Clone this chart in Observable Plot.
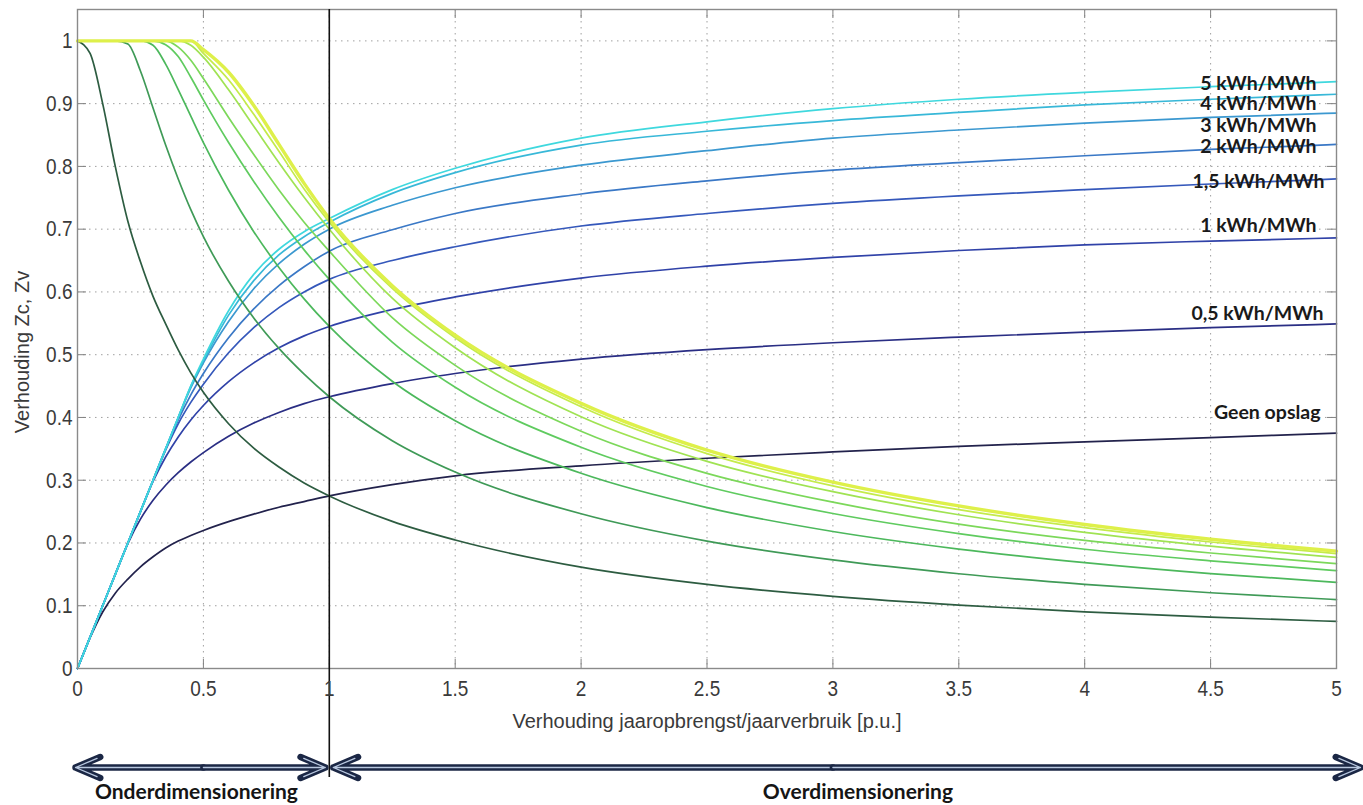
<!DOCTYPE html>
<html>
<head>
<meta charset="utf-8">
<script src="https://cdn.jsdelivr.net/npm/d3@7"></script>
<script src="https://cdn.jsdelivr.net/npm/@observablehq/plot@0.6"></script>
<style>
  html, body { margin: 0; padding: 0; background: #ffffff; }
  #chart { width: 1363px; height: 805px; overflow: hidden; }
  #chart svg { display: block; }
</style>
</head>
<body>
<div id="chart"></div>
<script>
// ---------------- DATA ----------------
const xs = [0, 0.05, 0.1, 0.15, 0.2, 0.25, 0.3, 0.35, 0.4, 0.45, 0.5, 0.6, 0.7, 0.8, 0.9, 1, 1.25, 1.5, 2, 2.5, 3, 3.5, 4, 4.5, 5];

const seriesNames = ["Geen opslag", "0,5 kWh/MWh", "1 kWh/MWh", "1,5 kWh/MWh", "2 kWh/MWh", "3 kWh/MWh", "4 kWh/MWh", "5 kWh/MWh"];

// Zc (rising curves)
const zcGeen = [0, 0.049, 0.09, 0.12, 0.1425, 0.162, 0.178, 0.192, 0.203, 0.212, 0.22, 0.234, 0.246, 0.257, 0.266, 0.275, 0.293, 0.307, 0.323, 0.335, 0.345, 0.354, 0.361, 0.368, 0.375];
const zc05   = [0, 0.05, 0.1, 0.15, 0.199, 0.238, 0.268, 0.292, 0.312, 0.329, 0.344, 0.37, 0.391, 0.408, 0.422, 0.433, 0.454, 0.47, 0.493, 0.508, 0.519, 0.528, 0.536, 0.543, 0.549];
const zc1    = [0, 0.05, 0.1, 0.15, 0.2, 0.25, 0.298, 0.337, 0.369, 0.396, 0.419, 0.457, 0.487, 0.511, 0.53, 0.545, 0.572, 0.592, 0.622, 0.641, 0.655, 0.666, 0.675, 0.681, 0.686];
const zc15   = [0, 0.05, 0.1, 0.15, 0.2, 0.25, 0.3, 0.348, 0.39, 0.424, 0.453, 0.503, 0.543, 0.575, 0.6, 0.62, 0.65, 0.672, 0.705, 0.725, 0.741, 0.753, 0.763, 0.772, 0.78];
const zc2    = [0, 0.05, 0.1, 0.15, 0.2, 0.25, 0.3, 0.35, 0.396, 0.436, 0.47, 0.527, 0.573, 0.61, 0.64, 0.665, 0.699, 0.725, 0.756, 0.777, 0.794, 0.806, 0.817, 0.827, 0.835];
const zc3    = [0, 0.05, 0.1, 0.15, 0.2, 0.25, 0.3, 0.35, 0.4, 0.447, 0.487, 0.553, 0.605, 0.645, 0.676, 0.70, 0.738, 0.766, 0.802, 0.825, 0.845, 0.858, 0.869, 0.878, 0.885];
const zc4    = [0, 0.05, 0.1, 0.15, 0.2, 0.25, 0.3, 0.35, 0.4, 0.45, 0.49, 0.563, 0.618, 0.659, 0.688, 0.711, 0.757, 0.79, 0.834, 0.856, 0.873, 0.886, 0.898, 0.907, 0.915];
const zc5    = [0, 0.05, 0.1, 0.15, 0.2, 0.25, 0.3, 0.35, 0.4, 0.45, 0.493, 0.57, 0.628, 0.668, 0.696, 0.717, 0.763, 0.797, 0.845, 0.871, 0.892, 0.907, 0.918, 0.927, 0.935];

// Zv (falling curves)
const zvGeen = [1, 0.98, 0.9, 0.8, 0.7125, 0.648, 0.593, 0.549, 0.5075, 0.471, 0.44, 0.39, 0.351, 0.321, 0.2956, 0.275, 0.2344, 0.2047, 0.1615, 0.134, 0.115, 0.1011, 0.0903, 0.0818, 0.075];
const zv05   = [1, 1, 1, 1, 0.995, 0.952, 0.893, 0.834, 0.78, 0.731, 0.688, 0.617, 0.5586, 0.51, 0.469, 0.433, 0.363, 0.313, 0.2465, 0.203, 0.173, 0.151, 0.134, 0.1207, 0.1098];
const zv1    = [1, 1, 1, 1, 1, 1, 0.993, 0.963, 0.9225, 0.88, 0.838, 0.762, 0.696, 0.639, 0.589, 0.545, 0.4576, 0.3947, 0.311, 0.2564, 0.2183, 0.1903, 0.1688, 0.1513, 0.1372];
const zv15   = [1, 1, 1, 1, 1, 1, 1, 0.994, 0.975, 0.942, 0.906, 0.838, 0.776, 0.719, 0.667, 0.62, 0.52, 0.448, 0.3525, 0.29, 0.247, 0.215, 0.19, 0.1716, 0.156];
const zv2    = [1, 1, 1, 1, 1, 1, 1, 1, 0.99, 0.969, 0.94, 0.878, 0.819, 0.7625, 0.711, 0.665, 0.559, 0.483, 0.378, 0.311, 0.265, 0.23, 0.204, 0.184, 0.167];
const zv3    = [1, 1, 1, 1, 1, 1, 1, 1, 1, 0.993, 0.974, 0.922, 0.864, 0.806, 0.751, 0.70, 0.59, 0.511, 0.401, 0.33, 0.2817, 0.245, 0.217, 0.195, 0.177];
const zv4    = [1, 1, 1, 1, 1, 1, 1, 1, 1, 1, 0.98, 0.938, 0.883, 0.824, 0.764, 0.711, 0.6056, 0.527, 0.417, 0.3424, 0.291, 0.253, 0.2245, 0.2016, 0.183];
const zv5    = [1, 1, 1, 1, 1, 1, 1, 1, 1, 1, 0.986, 0.95, 0.897, 0.835, 0.773, 0.717, 0.61, 0.531, 0.4225, 0.348, 0.297, 0.259, 0.2295, 0.206, 0.187];

const xTicks = [0, 0.5, 1, 1.5, 2, 2.5, 3, 3.5, 4, 4.5, 5];
const yTicks = [0, 0.1, 0.2, 0.3, 0.4, 0.5, 0.6, 0.7, 0.8, 0.9, 1];

const regions = [
  { name: "Onderdimensionering", from: 0, to: 1 },
  { name: "Overdimensionering", from: 1, to: 5 }
];

const xLabel = "Verhouding jaaropbrengst/jaarverbruik [p.u.]";
const yLabel = "Verhouding Zc, Zv";

// ---------------- STYLE / LAYOUT ----------------
const zcSeries = [zcGeen, zc05, zc1, zc15, zc2, zc3, zc4, zc5];
const zvSeries = [zvGeen, zv05, zv1, zv15, zv2, zv3, zv4, zv5];
const zcColors = ["#22224c", "#2a2e84", "#3042a8", "#3558bb", "#3a78c6", "#3b98d0", "#38b8d8", "#3fd8de"];
const zvColors = ["#2d5c41", "#3f9a57", "#4cb85c", "#5fcb5f", "#7cd85a", "#a0e353", "#c4eb4b", "#def04a"];
const labelDx = [-16, -13, -20, -12, -20, -20, -20, -20];
const labelDy = [-20, -10, -12, 2.5, 2.5, 12.5, 10, 2];

const W = 1363, H = 805, mL = 77, mR = 27, mT = 9, mB = 137;
const fw = W - mL - mR, fh = H - mT - mB;
const tickLen = 9;
const axisFont = "'Liberation Sans', Arial, Helvetica, sans-serif";
const axisFill = "#3a3a3a";
const labelFont = "Lato, 'Open Sans', sans-serif";
const gridStyle = { stroke: "#8f8f8f", strokeOpacity: 0.85, strokeWidth: 1, strokeDasharray: "1.5,4.5" };

const marks = [];
marks.push(Plot.gridX(xTicks, gridStyle));
marks.push(Plot.gridY(yTicks, gridStyle));

// inward ticks on all four sides
marks.push(Plot.ruleX(xTicks, { insetTop: fh - tickLen, stroke: "#808080", strokeWidth: 1 }));
marks.push(Plot.ruleX(xTicks, { insetBottom: fh - tickLen, stroke: "#808080", strokeWidth: 1 }));
marks.push(Plot.ruleY(yTicks, { insetRight: fw - tickLen, stroke: "#808080", strokeWidth: 1 }));
marks.push(Plot.ruleY(yTicks, { insetLeft: fw - tickLen, stroke: "#808080", strokeWidth: 1 }));

// rising curves
seriesNames.forEach((name, k) => {
  const rows = xs.map((x, i) => ({ x, y: zcSeries[k][i], name }));
  marks.push(Plot.line(rows, { x: "x", y: "y", stroke: zcColors[k], strokeWidth: 1.7, curve: "monotone-x" }));
});
// falling curves
seriesNames.forEach((name, k) => {
  const rows = xs.map((x, i) => ({ x, y: zvSeries[k][i], name }));
  marks.push(Plot.line(rows, { x: "x", y: "y", stroke: zvColors[k], strokeWidth: k === 7 ? 3.4 : 1.7, curve: "monotone-x" }));
});

marks.push(Plot.frame({ stroke: "#8a8a8a", strokeWidth: 1.4 }));

// boundary line at x = 1, extending down through the arrows
marks.push(Plot.ruleX([regions[1].from], { stroke: "#111111", strokeWidth: 1.6, insetBottom: -109 }));

// curve labels
seriesNames.forEach((name, k) => {
  const last = xs.length - 1;
  marks.push(Plot.text([{ x: xs[last], y: zcSeries[k][last], name }], {
    x: "x", y: "y", text: "name", textAnchor: "end", lineAnchor: "middle", dx: labelDx[k], dy: labelDy[k],
    fontFamily: labelFont, fontWeight: "bold", fontSize: 19.5, fill: "#1a1a1a"
  }));
});

// axes
marks.push(Plot.axisX({ ticks: xTicks, tickSize: 0, tickPadding: 11, fontSize: 19, fontFamily: axisFont, fill: axisFill, label: null, tickFormat: d => String(d) }));
marks.push(Plot.axisY({ ticks: yTicks, tickSize: 0, tickPadding: 5, fontSize: 19, fontFamily: axisFont, fill: axisFill, label: null, tickFormat: d => String(+d.toFixed(2)) }));
marks.push(Plot.text([xLabel], { text: d => d, frameAnchor: "bottom", textAnchor: "middle", lineAnchor: "middle", dy: 53, fontSize: 20, fontFamily: axisFont, fill: axisFill, ariaLabel: "xlabel" }));
marks.push(Plot.text([yLabel], { text: d => d, frameAnchor: "left", textAnchor: "middle", lineAnchor: "middle", dx: -55, dy: 13, rotate: -90, fontSize: 20, fontFamily: axisFont, fill: axisFill, ariaLabel: "ylabel" }));

// double-headed arrows below the axis
const arrowInsets = [[-2, 4], [4, -24]]; // [start side, end side]
regions.forEach((r, j) => {
  const mid = (r.from + r.to) / 2;
  const halves = [{ a: mid, b: r.from, inset: arrowInsets[j][0] }, { a: mid, b: r.to, inset: arrowInsets[j][1] }];
  halves.forEach(h => {
    const d = [h];
    marks.push(Plot.arrow(d, { x1: "a", x2: "b", y1: () => 0, y2: () => 0, dy: 99, stroke: "#1b2745", strokeWidth: 6.5, headLength: 6.2, headAngle: 46, insetEnd: h.inset }));
    marks.push(Plot.arrow(d, { x1: "a", x2: "b", y1: () => 0, y2: () => 0, dy: 99, stroke: "#b9c8e0", strokeWidth: 1.3, headLength: 27, headAngle: 46, insetEnd: h.inset }));
  });
});
const regionDx = [-7, 25];
regions.forEach((r, j) => {
  marks.push(Plot.text([r], {
    x: d => (d.from + d.to) / 2, text: "name", frameAnchor: "bottom", textAnchor: "middle", lineAnchor: "middle", dy: 124, dx: regionDx[j],
    fontFamily: labelFont, fontWeight: "bold", fontSize: 21, fill: "#151515", ariaLabel: "region-label"
  }));
});

const plot = Plot.plot({
  width: W, height: H,
  marginLeft: mL, marginRight: mR, marginTop: mT, marginBottom: mB,
  x: { domain: [0, 5] },
  y: { domain: [0, 1.05] },
  style: { background: "#ffffff", overflow: "visible", fontFamily: axisFont },
  marks
});
const host = document.getElementById("chart");
host.append(plot);

// the MATLAB-drawn text in the reference is vertically stretched
const svgEl = host.querySelector("svg");
function stretch(nodes, sx, sy) {
  nodes.forEach(t => {
    const tr = t.getAttribute("transform");
    if (tr) t.setAttribute("transform", tr + ` scale(${sx},${sy})`);
    else {
      const x = +t.getAttribute("x") || 0, y = +t.getAttribute("y") || 0;
      t.setAttribute("transform", `translate(${x},${y}) scale(${sx},${sy}) translate(${-x},${-y})`);
    }
  });
}
stretch(svgEl.querySelectorAll('g[aria-label="x-axis tick label"] text, g[aria-label="y-axis tick label"] text, g[aria-label="xlabel"] text'), 1, 1.2);
stretch(svgEl.querySelectorAll('g[aria-label="ylabel"] text'), 1.29, 1);

// red spell-check squiggle under the region labels
const svgRect = svgEl.getBoundingClientRect();
svgEl.querySelectorAll('g[aria-label="region-label"] text').forEach(t => {
  const b = t.getBoundingClientRect();
  const x0 = b.left - svgRect.left, x1 = b.right - svgRect.left, yb = Math.min(b.bottom - svgRect.top - 1, 803);
  let dstr = `M${x0},${yb}`;
  let up = true;
  for (let x = x0 + 2; x <= x1; x += 2) { dstr += ` L${x},${yb + (up ? -1.2 : 1.2)}`; up = !up; }
  const p = document.createElementNS("http://www.w3.org/2000/svg", "path");
  p.setAttribute("d", dstr);
  p.setAttribute("fill", "none");
  p.setAttribute("stroke", "#e2534b");
  p.setAttribute("stroke-width", "1");
  p.setAttribute("stroke-opacity", "0.8");
  svgEl.appendChild(p);
});
</script>
</body>
</html>
